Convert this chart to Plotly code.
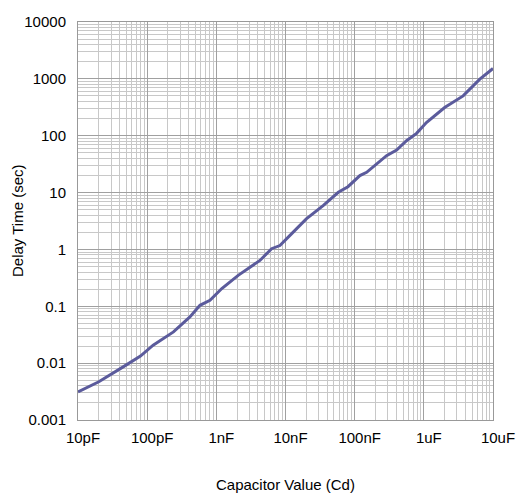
import plotly.graph_objects as go

# Capacitance in pF, delay in seconds
cap_pf = [10, 20, 45, 80, 122, 240, 415, 580, 810, 1200, 2070, 4270, 6300, 8300,
          12200, 20000, 35000, 58000, 80000, 119000, 149000, 289000, 404000,
          562000, 785000, 1090000, 2000000, 3700000, 6450000, 10000000]
delay_s = [0.00313, 0.0047, 0.0086, 0.0133, 0.0207, 0.0354, 0.0649, 0.104, 0.127,
           0.205, 0.35, 0.64, 1.03, 1.17, 1.88, 3.45, 5.9, 10.1, 12.7, 19.9, 22.7,
           44.6, 56.1, 81.7, 110, 171, 313, 501, 986, 1520]

x_tickvals = [10, 100, 1000, 10000, 100000, 1000000, 10000000]
x_ticktext = ["10pF", "100pF", "1nF", "10nF", "100nF", "1uF", "10uF"]
y_tickvals = [0.001, 0.01, 0.1, 1, 10, 100, 1000, 10000]
y_ticktext = ["0.001", "0.01", "0.1", "1", "10", "100", "1000", "10000"]
x_title = "Capacitor Value (Cd)"
y_title = "Delay Time (sec)"

fig = go.Figure()
fig.add_trace(go.Scatter(x=cap_pf, y=delay_s, mode="lines",
                         line=dict(color="#5b5b9c", width=3), showlegend=False,
                         hoverinfo="skip"))

font_family = "Liberation Sans, Arial, sans-serif"
fig.update_layout(
    width=520, height=493,
    margin=dict(l=78, r=27, t=22, b=73, autoexpand=False),
    paper_bgcolor="white", plot_bgcolor="white",
    font=dict(family=font_family, size=15, color="black"),
)
fig.update_xaxes(
    type="log", range=[1, 7], automargin=False,
    tickvals=x_tickvals, ticktext=x_ticktext,
    tickfont=dict(size=15), ticklabelstandoff=4, ticklabelshift=5,
    ticklabeloverflow="allow",
    showgrid=True, gridcolor="#a0a0a0", gridwidth=1,
    minor=dict(showgrid=True, gridcolor="#c8c8c8", gridwidth=1, dtick="D1"),
    showline=True, linecolor="#999999", mirror=True,
    ticks="", zeroline=False,
)
fig.update_yaxes(
    type="log", range=[-3, 4], automargin=False,
    tickvals=y_tickvals, ticktext=y_ticktext,
    tickfont=dict(size=15), ticklabelstandoff=8,
    showgrid=True, gridcolor="#a0a0a0", gridwidth=1,
    minor=dict(showgrid=True, gridcolor="#c8c8c8", gridwidth=1, dtick="D1"),
    showline=True, linecolor="#999999", mirror=True,
    ticks="", zeroline=False,
)
fig.add_annotation(text=x_title, xref="paper", yref="paper", x=0.5, y=0,
                   xanchor="center", yanchor="middle", yshift=-64,
                   showarrow=False, font=dict(size=15))
fig.add_annotation(text=y_title, xref="paper", yref="paper", x=0, y=0.5,
                   xanchor="center", yanchor="middle", xshift=-61, textangle=-90,
                   showarrow=False, font=dict(size=15))

fig.write_html(
    "out.html",
    config={"displayModeBar": False},
    post_script="document.body.style.margin='0';document.body.style.overflow='hidden';",
)
